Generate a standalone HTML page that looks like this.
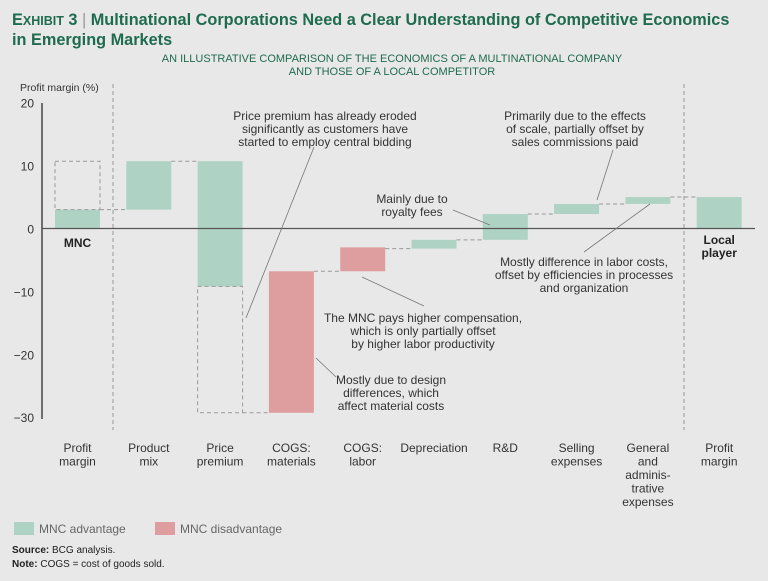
<!DOCTYPE html>
<html><head><meta charset="utf-8"><style>
body{margin:0;background:#e8e8e8;width:768px;height:581px;overflow:hidden;font-family:"Liberation Sans",sans-serif;}
svg{position:absolute;left:0;top:0}
</style></head><body>
<svg width="768" height="581" xmlns="http://www.w3.org/2000/svg" id="chart">
<text x="12" y="25" font-size="16.3" font-weight="bold" fill="#1f6b4f">E<tspan font-size="12.5">XHIBIT</tspan> 3 <tspan fill="#999" font-weight="normal">|</tspan> Multinational Corporations Need a Clear Understanding of Competitive Economics</text>
<text x="12" y="45" font-size="16.3" font-weight="bold" fill="#1f6b4f">in Emerging Markets</text>
<text x="392" y="62" font-size="11" fill="#1f6b4f" text-anchor="middle">AN ILLUSTRATIVE COMPARISON OF THE ECONOMICS OF A MULTINATIONAL COMPANY</text>
<text x="392" y="75" font-size="11" fill="#1f6b4f" text-anchor="middle">AND THOSE OF A LOCAL COMPETITOR</text>
<text x="20" y="91" font-size="10.5" fill="#333">Profit margin (%)</text>
<g id="g"></g>
<text x="12" y="553" font-size="10" fill="#222"><tspan font-weight="bold">Source:</tspan> BCG analysis.</text>
<text x="12" y="567" font-size="10" fill="#222"><tspan font-weight="bold">Note:</tspan> COGS = cost of goods sold.</text>
</svg>
<script>
const categories=["Profit margin","Product mix","Price premium","COGS: materials","COGS: labor","Depreciation","R&D","Selling expenses","General and administrative expenses","Profit margin"];
const labelLines=[["Profit","margin"],["Product","mix"],["Price","premium"],["COGS:","materials"],["COGS:","labor"],["Depreciation"],["R&D"],["Selling","expenses"],["General","and","adminis-","trative","expenses"],["Profit","margin"]];
const barStart=[0,3,10.7,-29.3,-6.8,-3.2,-1.8,2.3,3.9,0];
const barEnd=[3,10.7,-9.2,-6.8,-3.0,-1.8,2.3,3.9,5.0,5.0];
const barType=["adv","adv","adv","dis","dis","adv","adv","adv","adv","adv"];
const yTicks=[20,10,0,-10,-20,-30];
const NS="http://www.w3.org/2000/svg",g=document.getElementById('g');
const y=v=>228.5-v*6.29;
const x0=55,step=71.3,bw=45;
const xb=i=>x0+i*step;
function mk(t,a){const e=document.createElementNS(NS,t);for(const k in a)e.setAttribute(k,a[k]);g.appendChild(e);return e;}
let ax=mk('line',{x1:42,x2:42,y1:103,y2:419,stroke:'#444','stroke-width':1.5});


yTicks.forEach(t=>{const e=mk('text',{x:34,y:y(t)+5,'font-size':12,'text-anchor':'end',fill:'#333'});e.textContent=(t<0?'\u2212'+(-t):t);

});
[113,684].forEach(xx=>{const e=mk('line',{x1:xx,x2:xx,y1:84,y2:430,stroke:'#999','stroke-dasharray':'4,3'});

});
categories.forEach((c,i)=>{
 const a=barStart[i],b=barEnd[i];
 const r=mk('rect',{x:xb(i),y:y(Math.max(a,b)),width:bw,height:Math.abs(y(a)-y(b)),fill:barType[i]=='adv'?'#aed3c5':'#de9ea0'});
 
 
 if(i<categories.length-1){
  const lvl=(i==categories.length-2)?barEnd[i]:barStart[i+1];
  const l=mk('line',{x1:xb(i)+bw,x2:xb(i+1),y1:y(lvl),y2:y(lvl),stroke:'#999','stroke-dasharray':'4,3'});
  
  
 }
 labelLines[i].forEach((ln,k)=>{const t=mk('text',{x:xb(i)+bw/2,y:452+k*13.5,'font-size':12,'text-anchor':'middle',fill:'#333'});t.textContent=ln;
 
 });
});
const d1=mk('rect',{x:xb(0),y:y(barEnd[1]),width:bw,height:y(barEnd[0])-y(barEnd[1]),fill:'none',stroke:'#999','stroke-dasharray':'4,3'});


const d2=mk('rect',{x:xb(2),y:y(barEnd[2]),width:bw,height:y(barStart[3])-y(barEnd[2]),fill:'none',stroke:'#999','stroke-dasharray':'4,3'});


const z=mk('line',{x1:42,x2:755,y1:y(0),y2:y(0),stroke:'#555','stroke-width':1.2});


[["MNC",xb(0)+bw/2,247],["Local",xb(9)+bw/2,244],["player",xb(9)+bw/2,257]].forEach(a=>{const t=mk('text',{x:a[1],y:a[2],'font-size':12,'font-weight':'bold','text-anchor':'middle',fill:'#222'});t.textContent=a[0];

});
const notes=[[[ "Price premium has already eroded","significantly as customers have","started to employ central bidding"],325,120],
[["Mainly due to","royalty fees"],412,203],
[["Primarily due to the effects","of scale, partially offset by","sales commissions paid"],575,120],
[["Mostly difference in labor costs,","offset by efficiencies in processes","and organization"],584,266],
[["The MNC pays higher compensation,","which is only partially offset","by higher labor productivity"],423,322],
[["Mostly due to design","differences, which","affect material costs"],391,384]];
notes.forEach(n=>n[0].forEach((ln,k)=>{const t=mk('text',{x:n[1],y:n[2]+k*13,'font-size':12,'text-anchor':'middle',fill:'#333'});t.textContent=ln;

}));
[[314,147,246,318],[453,210,490,225],[613,150,597,200],[584,252,650,204],[424,306,362,277],[336,377,316,358]].forEach(a=>{const l=mk('line',{x1:a[0],y1:a[1],x2:a[2],y2:a[3],stroke:'#777','stroke-width':0.8});

});
[["MNC advantage",'#aed3c5',14],["MNC disadvantage",'#de9ea0',155]].forEach(a=>{const r=mk('rect',{x:a[2],y:522,width:20,height:13,fill:a[1]});


const t=mk('text',{x:a[2]+25,y:533,'font-size':12,fill:'#666'});t.textContent=a[0];

});
</script>
</body></html>
